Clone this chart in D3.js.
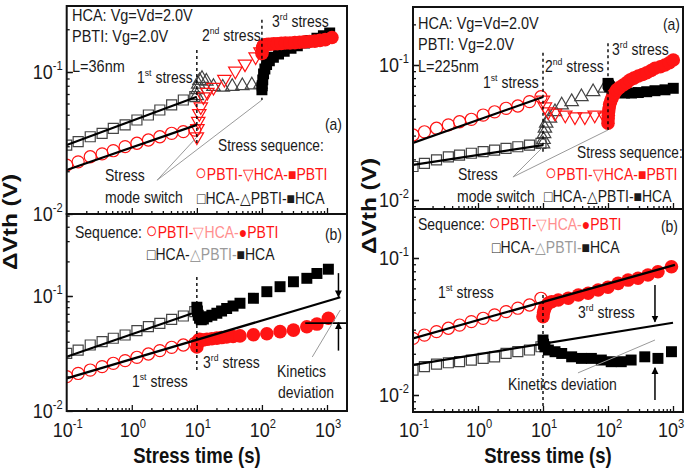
<!DOCTYPE html>
<html>
<head>
<meta charset="utf-8">
<script src="https://cdn.jsdelivr.net/npm/d3@7"></script>
<style>
  html, body { margin: 0; padding: 0; background: #fff; }
  svg { display: block; }
</style>
</head>
<body>
<svg id="fig" width="685" height="471"></svg>
<script>
// ---------------- data: stress time (s) and threshold-voltage shift (V) ----------------
// 1st stress sampling times (shared)
const tFirst = [0.1, 0.15, 0.23, 0.35, 0.52, 0.79, 1.2, 1.8, 2.7, 4.1, 6.2, 9.3];

// L = 36 nm, panel (a)
const l36a_hca1 = [0.0306, 0.0323, 0.035, 0.037, 0.0401, 0.0424, 0.0459, 0.0498, 0.054, 0.0586, 0.0635, 0.067];
const l36a_pbti1 = [0.0221, 0.0233, 0.0253, 0.0265, 0.0279, 0.0298, 0.0315, 0.0332, 0.035, 0.037, 0.038, 0.039];
const l36a_hca2_t = [10, 10.2, 10.5, 10.9, 11.5, 12.6, 14.5, 18, 26.5, 39, 55, 80, 95];
const l36a_hca2 = [0.035, 0.04, 0.045, 0.051, 0.057, 0.067, 0.072, 0.078, 0.089, 0.1016, 0.114, 0.128, 0.139];
const l36a_pbti2_t = [10, 10.2, 10.5, 11, 12, 14, 18, 25, 35, 50, 70, 95];
const l36a_pbti2 = [0.068, 0.075, 0.082, 0.087, 0.09, 0.086, 0.079, 0.078, 0.079, 0.08, 0.081, 0.082];
const l36a_pbti3_t = [100, 101, 102, 104, 107, 111, 117, 125, 137, 152, 172, 198, 230, 270, 320, 380, 450, 540, 650, 780, 940, 1190];
const l36a_pbti3 = [0.135, 0.142, 0.148, 0.152, 0.154, 0.155, 0.156, 0.157, 0.157, 0.158, 0.158, 0.159, 0.16, 0.16, 0.161, 0.162, 0.163, 0.164, 0.165, 0.167, 0.169, 0.175];
const l36a_hca3_t = [100, 101, 103, 106, 111, 118, 130, 150, 180, 220, 280, 350, 450, 560, 700, 880, 1100];
const l36a_hca3 = [0.075, 0.08, 0.088, 0.097, 0.105, 0.113, 0.12, 0.127, 0.134, 0.14, 0.147, 0.153, 0.16, 0.167, 0.173, 0.18, 0.188];
const l36a_fitHca = { t: [0.1, 10], v: [0.0306, 0.067] };
const l36a_fitPbti = { t: [0.1, 10], v: [0.0204, 0.0424] };

// L = 36 nm, panel (b)
const l36b_hca1 = [0.0317, 0.0339, 0.0375, 0.0401, 0.0429, 0.0458, 0.0499, 0.0541, 0.0578, 0.0627, 0.067, 0.0731];
const l36b_pbti1 = [0.0199, 0.0212, 0.0227, 0.0243, 0.026, 0.0274, 0.0293, 0.0313, 0.0335, 0.0358, 0.0375, 0.0388];
const l36b_third_t = [10, 10.2, 10.5, 11, 11.7, 12.6, 14.3, 17, 20.3, 24, 28.7, 36, 46, 74, 119, 190, 305, 490, 700, 1050];
const l36b_pbti3 = [0.036, 0.039, 0.041, 0.042, 0.0415, 0.0415, 0.042, 0.0425, 0.043, 0.0435, 0.044, 0.0445, 0.045, 0.046, 0.047, 0.049, 0.0505, 0.054, 0.057, 0.064];
const l36b_hca3 = [0.080, 0.074, 0.068, 0.064, 0.062, 0.063, 0.066, 0.068, 0.0707, 0.074, 0.078, 0.082, 0.0864, 0.0955, 0.109, 0.1205, 0.133, 0.1425, 0.157, 0.171];
const l36b_fitHca = { t: [0.1, 10], v: [0.0296, 0.073] };
const l36b_fitPbti = { t: [0.1, 1600], v: [0.0192, 0.0975] };
const l36b_level = 0.058;

// L = 225 nm, panel (a)
const l225a_pbti1 = [0.0303, 0.032, 0.034, 0.036, 0.038, 0.0396, 0.0426, 0.045, 0.0478, 0.0497, 0.0535, 0.0582];
const l225a_hca1 = [0.0177, 0.0187, 0.0198, 0.0209, 0.0215, 0.0222, 0.0228, 0.0234, 0.0241, 0.0248, 0.0255, 0.0263];
const l225a_pbti2_t = [10, 10.2, 10.4, 10.7, 11.2, 12.8, 15.3, 19.4, 27.6, 39, 59, 89];
const l225a_pbti2 = [0.026, 0.028, 0.031, 0.034, 0.037, 0.0403, 0.045, 0.0505, 0.0535, 0.0582, 0.0634, 0.0672];
const l225a_hca2_t = [10, 10.7, 12, 15.3, 22, 31, 44, 62.5, 89];
const l225a_hca2 = [0.055, 0.049, 0.045, 0.044, 0.0426, 0.0414, 0.0414, 0.0426, 0.0414];
const l225a_pbti3_t = [100, 100.5, 101, 102, 104, 106, 110, 115, 121, 128, 136, 150, 172, 195, 218, 250, 293, 340, 394, 460, 528, 640, 753, 880, 1010];
const l225a_pbti3 = [0.037, 0.040, 0.0425, 0.045, 0.048, 0.051, 0.054, 0.057, 0.0599, 0.0625, 0.0654, 0.068, 0.0711, 0.074, 0.0774, 0.080, 0.0829, 0.085, 0.0877, 0.091, 0.0945, 0.097, 0.1, 0.104, 0.109];
const l225a_hca3_t = [100, 102, 106, 115, 128, 150, 180, 230, 293, 394, 528, 753, 1010];
const l225a_hca3 = [0.0731, 0.071, 0.069, 0.0653, 0.0634, 0.0625, 0.062, 0.062, 0.0625, 0.0634, 0.0645, 0.0655, 0.0672];
const l225a_fitPbti = { t: [0.1, 10], v: [0.0265, 0.058] };
const l225a_fitHca = { t: [0.1, 10], v: [0.0182, 0.0255] };

// L = 225 nm, panel (b)
const l225b_pbti1 = [0.0259, 0.0274, 0.029, 0.0307, 0.0324, 0.0343, 0.0363, 0.0384, 0.0406, 0.043, 0.0454, 0.0508];
const l225b_hca1 = [0.0152, 0.0161, 0.0168, 0.0172, 0.0175, 0.018, 0.0185, 0.019, 0.0201, 0.0207, 0.0213, 0.0225];
const l225b_pbti3_t = [10, 10.2, 10.5, 11, 12, 13.6, 17.2, 24.5, 35, 49.6, 70.6, 100, 143, 204, 290, 412, 587, 947];
const l225b_pbti3 = [0.0373, 0.040, 0.0425, 0.0441, 0.0467, 0.048, 0.0494, 0.0508, 0.0537, 0.0553, 0.0584, 0.0611, 0.0653, 0.069, 0.0711, 0.0751, 0.0794, 0.0864];
const l225b_hca3_t = [10, 10.2, 10.7, 12.1, 15.3, 19.4, 27.6, 39, 55.5, 79, 112, 160, 227, 368, 587, 947];
const l225b_hca3 = [0.0252, 0.0235, 0.0225, 0.0213, 0.0207, 0.0201, 0.019, 0.0185, 0.0185, 0.018, 0.0175, 0.0175, 0.018, 0.019, 0.0185, 0.0207];
const l225b_fitPbti = { t: [0.1, 1070], v: [0.0259, 0.089] };
const l225b_fitHca = { t: [0.1, 1000], v: [0.0166, 0.0337] };

// axis tick labels
const xTickExp = ["-1", "0", "1", "2", "3"];
const yTickExp = ["-2", "-1"];

// ---------------- drawing ----------------
const RED = "#ff1414";
const PINK = "#ff8f8f";
const GREY = "#9a9a9a";
const FONT = "'Liberation Sans', Arial, Helvetica, sans-serif";
const S = 1.15; // text glyphs are drawn slightly tall

const svg = d3.select("#fig");
const defs = svg.append("defs");
defs.append("marker").attr("id", "ah")
  .attr("viewBox", "0 0 10 10").attr("refX", 9).attr("refY", 5)
  .attr("markerWidth", 7).attr("markerHeight", 8).attr("markerUnits", "userSpaceOnUse")
  .attr("orient", "auto")
  .append("path").attr("d", "M0,0L10,5L0,10z").attr("fill", "#000");

// segments: [string, superscript?, colour, size factor]
function rt(x, y, segs, o = {}) {
  const fs = o.size || 14;
  const t = svg.append("text")
    .attr("transform", `translate(${x},${y}) scale(1,${o.sy || S})`)
    .attr("font-family", FONT).attr("font-size", fs)
    .attr("text-anchor", o.anchor || "start")
    .attr("fill", o.fill || "#1a1a1a");
  if (o.bold) t.attr("font-weight", "bold");
  let up = false;
  segs.forEach(([s, sup, fill, k]) => {
    const sp = t.append("tspan").text(s);
    if (fill) sp.attr("fill", fill);
    if (k) sp.attr("font-size", fs * k);
    if (sup) {
      sp.attr("font-size", fs * 0.62);
      if (!up) { sp.attr("dy", -fs * 0.42); up = true; }
    } else if (up) { sp.attr("dy", fs * 0.42); up = false; }
  });
  return t;
}

const panelGeom = {
  la: { x0: 66.7, x1: 347, y0: 6, y1: 214, xr: [66.7, 327], yr: [214, 72] },
  lb: { x0: 66.7, x1: 347, y0: 214, y1: 411, xr: [66.7, 327], yr: [411, 296] },
  ra: { x0: 413, x1: 683, y0: 7, y1: 209, xr: [413, 673], yr: [200, 65] },
  rb: { x0: 413, x1: 683, y0: 209, y1: 412, xr: [413, 673], yr: [395, 258] }
};

function makePanel(key, showX) {
  const p = panelGeom[key];
  const xs = d3.scaleLog().domain([0.1, 1000]).range(p.xr);
  const ys = d3.scaleLog().domain([0.01, 0.1]).range(p.yr);
  defs.append("clipPath").attr("id", "clip-" + key).append("rect")
    .attr("x", p.x0).attr("y", p.y0).attr("width", p.x1 - p.x0).attr("height", p.y1 - p.y0);
  const g = svg.append("g");
  const plot = g.append("g").attr("clip-path", `url(#clip-${key})`);
  const marks = plot.append("g");
  const over = plot.append("g");

  const isMajor = d => Math.abs(Math.log10(d) - Math.round(Math.log10(d))) < 1e-6;
  const xt = d3.scaleLog().domain([xs.invert(p.x0 + 0.01), xs.invert(p.x1 - 0.01)]).ticks();
  const yt = d3.scaleLog().domain([ys.invert(p.y1 - 0.01), ys.invert(p.y0 + 0.01)]).ticks();

  const ax = g.append("g").attr("transform", `translate(0,${p.y1})`)
    .call(d3.axisBottom(xs).tickValues(xt).tickSize(-3).tickFormat(""));
  ax.select(".domain").remove();
  ax.selectAll(".tick line").attr("stroke", "#111").attr("stroke-width", 1.3)
    .attr("y2", d => isMajor(d) ? -6 : -3);

  const ay = g.append("g").attr("transform", `translate(${p.x0},0)`)
    .call(d3.axisLeft(ys).tickValues(yt.concat(ys.domain())).tickSize(-3).tickFormat(""));
  ay.select(".domain").remove();
  ay.selectAll(".tick line").attr("stroke", "#111").attr("stroke-width", 1.3)
    .attr("x2", d => isMajor(d) ? 6 : 3);

  g.append("rect").attr("x", p.x0).attr("y", p.y0)
    .attr("width", p.x1 - p.x0).attr("height", p.y1 - p.y0)
    .attr("fill", "none").attr("stroke", "#111").attr("stroke-width", 2);

  // y tick labels
  ys.domain().forEach((d, i) => {
    rt(p.x0 - 4, ys(d) + 7, [["10"], [yTickExp[i], 1]], { size: 18, anchor: "end" });
  });
  if (showX) {
    [0.1, 1, 10, 100, 1000].forEach((d, i) => {
      const nudge = (i === 4 && p.x1 > 680) ? -2 : 1;
      rt(xs(d) + nudge, 437, [["10"], [xTickExp[i], 1]], { size: 18, anchor: "middle" });
    });
  }
  return { xs, ys, g, marks, over, p };
}

const sym = {
  square: d3.symbol().type(d3.symbolSquare),
  circle: d3.symbol().type(d3.symbolCircle),
  tri: d3.symbol().type(d3.symbolTriangle)
};

function series(P, t, v, o) {
  const pts = t.map((d, i) => [P.xs(d), P.ys(v[i])]);
  const gen = o.shape === "tridown" ? sym.tri : sym[o.shape];
  P.marks.append("g").selectAll("path").data(pts).join("path")
    .attr("transform", d => `translate(${d[0]},${d[1]})` + (o.shape === "tridown" ? " rotate(180)" : ""))
    .attr("d", gen.size(o.size))
    .attr("fill", o.fill || "none")
    .attr("stroke", o.stroke || "none")
    .attr("stroke-width", o.sw || 1.2);
}

function fit(P, f, w = 2.2) {
  P.over.append("path")
    .attr("d", d3.line().x(d => P.xs(d[0])).y(d => P.ys(d[1]))(f.t.map((d, i) => [d, f.v[i]])))
    .attr("stroke", "#000").attr("stroke-width", w).attr("fill", "none");
}

function seg(P, a, b, o = {}) {
  const l = P.over.append("line")
    .attr("x1", P.xs(a[0])).attr("y1", P.ys(a[1]))
    .attr("x2", P.xs(b[0])).attr("y2", P.ys(b[1]))
    .attr("stroke", o.stroke || "#000").attr("stroke-width", o.sw || 1.5);
  if (o.dash) l.attr("stroke-dasharray", o.dash);
  if (o.arrow) l.attr("marker-end", "url(#ah)");
  return l;
}

const sqOpen = { shape: "square", size: 100, stroke: "#444", sw: 1.2 };
const ciOpen = { shape: "circle", size: 115, stroke: RED, sw: 1.2 };
const sqFill = { shape: "square", size: 120, fill: "#000" };
const ciFill = { shape: "circle", size: 145, fill: RED };
const triUp = { shape: "tri", size: 78, stroke: "#444", sw: 1.2 };
const triDown = { shape: "tridown", size: 78, stroke: RED, sw: 1.2 };

const CI = 1.4; // legend circle glyph size factor

// ===== L = 36 nm, (a) =====
const LA = makePanel("la", false);
series(LA, tFirst, l36a_hca1, sqOpen);
series(LA, tFirst, l36a_pbti1, ciOpen);
series(LA, l36a_pbti2_t, l36a_pbti2, triUp);
series(LA, l36a_hca2_t, l36a_hca2, triDown);
series(LA, l36a_hca3_t, l36a_hca3, sqFill);
series(LA, l36a_pbti3_t, l36a_pbti3, ciFill);
fit(LA, l36a_fitHca);
fit(LA, l36a_fitPbti);
seg(LA, [10, 0.143], [10, 0.0316], { dash: "3,3", sw: 1.4 });
seg(LA, [100, 0.233], [100, 0.0635], { dash: "3,3", sw: 1.4 });
seg(LA, [2.45, 0.0173], [10, 0.0348], { stroke: GREY, sw: 1 });
seg(LA, [2.45, 0.0173], [100, 0.0635], { stroke: GREY, sw: 1 });

rt(72, 21, [["HCA: Vg=Vd=2.0V"]], { size: 14.5 });
rt(72, 42, [["PBTI: Vg=2.0V"]], { size: 14.5 });
rt(72, 72, [["L=36nm"]], { size: 14.5 });
rt(137, 83, [["1"], ["st", 1], [" stress"]], { size: 14 });
rt(202, 41, [["2"], ["nd", 1], [" stress"]], { size: 14 });
rt(272, 27, [["3"], ["rd", 1], [" stress"]], { size: 14 });
rt(342, 130, [["(a)"]], { size: 14, anchor: "end" });
rt(218, 151, [["Stress sequence:"]], { size: 13.7 });
rt(195, 180, [["○", 0, null, CI], ["PBTI-▽HCA-■PBTI"]], { size: 14, fill: RED });
rt(105, 181, [["Stress"]], { size: 14 });
rt(105, 203, [["mode switch"]], { size: 14 });
rt(197, 204, [["□HCA-△PBTI-■HCA"]], { size: 14 });

// ===== L = 36 nm, (b) =====
const LB = makePanel("lb", true);
series(LB, tFirst, l36b_hca1, sqOpen);
series(LB, tFirst, l36b_pbti1, ciOpen);
series(LB, l36b_third_t, l36b_hca3, sqFill);
series(LB, l36b_third_t, l36b_pbti3, ciFill);
fit(LB, l36b_fitHca);
fit(LB, l36b_fitPbti);
seg(LB, [10, 0.146], [10, 0.0214], { dash: "3,3", sw: 1.4 });
seg(LB, [463, l36b_level], [2100, l36b_level], { sw: 1.8 });
seg(LB, [1500, 0.158], [1500, 0.0985], { arrow: true, sw: 1.5 });
seg(LB, [1500, 0.0335], [1500, 0.0585], { arrow: true, sw: 1.5 });
seg(LB, [594, 0.0295], [1600, 0.0755], { stroke: GREY, sw: 1 });

rt(75, 238, [["Sequence: "], ["○", 0, RED, CI], ["PBTI-", 0, RED], ["▽HCA-", 0, PINK], ["●PBTI", 0, RED]], { size: 14 });
rt(147, 260, [["□HCA-"], ["△PBTI-", 0, GREY], ["■HCA"]], { size: 14 });
rt(342, 240, [["(b)"]], { size: 14, anchor: "end" });
rt(203, 368, [["3"], ["rd", 1], [" stress"]], { size: 14 });
rt(132, 387, [["1"], ["st", 1], [" stress"]], { size: 14 });
rt(277, 377, [["Kinetics"]], { size: 14 });
rt(278, 398, [["deviation"]], { size: 14 });

// ===== L = 225 nm, (a) =====
const RA = makePanel("ra", false);
series(RA, tFirst, l225a_hca1, sqOpen);
series(RA, tFirst, l225a_pbti1, ciOpen);
series(RA, l225a_pbti2_t, l225a_pbti2, triUp);
series(RA, l225a_hca2_t, l225a_hca2, triDown);
series(RA, l225a_hca3_t, l225a_hca3, sqFill);
series(RA, l225a_pbti3_t, l225a_pbti3, ciFill);
fit(RA, l225a_fitPbti);
fit(RA, l225a_fitHca);
seg(RA, [10, 0.123], [10, 0.0223], { dash: "3,3", sw: 1.4 });
seg(RA, [100, 0.145], [100, 0.033], { dash: "3,3", sw: 1.4 });
seg(RA, [3.45, 0.0148], [10, 0.0247], { stroke: GREY, sw: 1 });
seg(RA, [3.45, 0.0148], [100, 0.033], { stroke: GREY, sw: 1 });

rt(418, 29, [["HCA: Vg=Vd=2.0V"]], { size: 14.5 });
rt(418, 50, [["PBTI: Vg=2.0V"]], { size: 14.5 });
rt(418, 72, [["L=225nm"]], { size: 14.5 });
rt(680, 30, [["(a)"]], { size: 14, anchor: "end" });
rt(483, 88, [["1"], ["st", 1], [" stress"]], { size: 14 });
rt(545, 72, [["2"], ["nd", 1], [" stress"]], { size: 14 });
rt(612, 55, [["3"], ["rd", 1], [" stress"]], { size: 14 });
rt(577, 158, [["Stress sequence:"]], { size: 13.7 });
rt(545, 180, [["○", 0, null, CI], ["PBTI-▽HCA-■PBTI"]], { size: 14, fill: RED });
rt(458, 180, [["Stress"]], { size: 14 });
rt(457, 202, [["mode switch"]], { size: 14 });
rt(544, 202, [["□HCA-△PBTI-■HCA"]], { size: 14 });

// ===== L = 225 nm, (b) =====
const RB = makePanel("rb", true);
series(RB, tFirst, l225b_hca1, sqOpen);
series(RB, tFirst, l225b_pbti1, ciOpen);
series(RB, l225b_hca3_t, l225b_hca3, sqFill);
series(RB, l225b_pbti3_t, l225b_pbti3, ciFill);
fit(RB, l225b_fitPbti);
fit(RB, l225b_fitHca);
seg(RB, [10, 0.0536], [10, 0.0082], { dash: "3,3", sw: 1.4 });
seg(RB, [528, 0.0635], [528, 0.0342], { arrow: true, sw: 1.5 });
seg(RB, [528, 0.0092], [528, 0.0158], { arrow: true, sw: 1.5 });
seg(RB, [34.5, 0.0145], [528, 0.0252], { stroke: GREY, sw: 1 });

rt(418, 230, [["Sequence: "], ["○", 0, RED, CI], ["PBTI-", 0, RED], ["▽HCA-", 0, PINK], ["●PBTI", 0, RED]], { size: 14 });
rt(492, 253, [["□HCA-"], ["△PBTI-", 0, GREY], ["■HCA"]], { size: 14 });
rt(678, 232, [["(b)"]], { size: 14, anchor: "end" });
rt(438, 298, [["1"], ["st", 1], [" stress"]], { size: 14 });
rt(578, 318, [["3"], ["rd", 1], [" stress"]], { size: 14 });
rt(508, 390, [["Kinetics deviation"]], { size: 14 });

// ===== axis titles =====
rt(197, 463, [["Stress time (s)"]], { size: 18.5, bold: true, anchor: "middle", sy: 1.2, fill: "#111" });
rt(548, 463, [["Stress time (s)"]], { size: 18.5, bold: true, anchor: "middle", sy: 1.2, fill: "#111" });

function vtitle(x, y) {
  svg.append("text")
    .attr("transform", `translate(${x},${y}) rotate(-90) scale(1.22,1)`)
    .attr("font-family", FONT).attr("font-size", 20).attr("font-weight", "bold")
    .attr("text-anchor", "middle").attr("fill", "#111")
    .text("ΔVth (V)");
}
vtitle(17, 222);
vtitle(376, 206);
</script>
</body>
</html>
